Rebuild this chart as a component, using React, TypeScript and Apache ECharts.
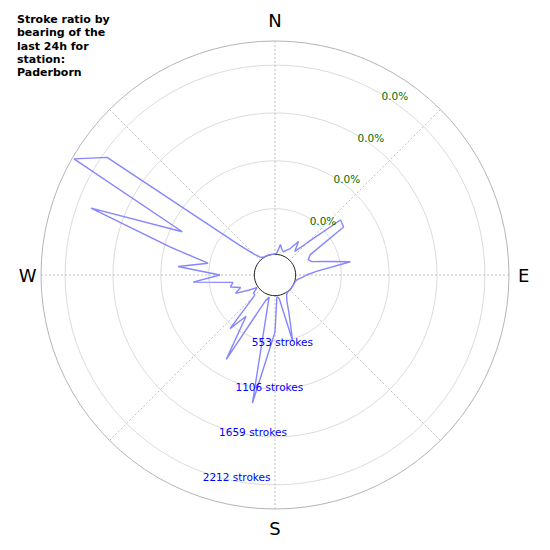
import React, { useEffect, useRef } from 'react';
import * as echarts from 'echarts';

// bearing bins (degrees, clockwise from north)
const bearings = [
  0, 5, 10, 15, 20, 25, 30, 35, 40, 45, 50, 55,
  60, 65, 70, 75, 80, 85, 90, 95, 100, 105, 110, 115,
  120, 125, 130, 135, 140, 145, 150, 155, 160, 165, 170, 175,
  180, 185, 190, 195, 200, 205, 210, 215, 220, 225, 230, 235,
  240, 245, 250, 255, 260, 265, 270, 275, 280, 285, 290, 295,
  300, 305, 310, 315, 320, 325, 330, 335, 340, 345, 350, 355,
];

// strokes per bearing bin
const strokes = [
  30, 45, 146, 95, 73, 105, 140, 260, 143, 315, 775, 755,
  258, 210, 239, 392, 671, 267, 150, 105, 60, 38, 32, 30,
  30, 30, 30, 30, 32, 35, 55, 110, 260, 577, 60, 40,
  444, 700, 1289, 50, 100, 270, 913, 370, 596, 120, 110, 40,
  140, 290, 210, 320, 280, 737, 424, 911, 573, 1050, 2048, 969,
  2469, 2155, 330, 130, 60, 35, 32, 30, 30, 30, 30, 28,
];

const strokeTicks = [553, 1106, 1659, 2212];
const pctLabels = ['0.0%', '0.0%', '0.0%', '0.0%'];
const compassBearings = [0, 90, 180, 270];
const compassLabels = ['N', 'E', 'S', 'W'];
const compassKeys = ['n', 'e', 's', 'w'];
const titleText = 'Stroke ratio by\nbearing of the\nlast 24h for\nstation:\nPaderborn';
const radiusMax = 2490;
const strokeLabelBearing = 200;
const pctLabelBearing = 30;

const FONT = 'DejaVu Sans';

export default function App() {
  const ref = useRef<HTMLDivElement>(null);

  useEffect(() => {
    if (!ref.current) return;
    const chart = echarts.init(ref.current, null, { renderer: 'svg' });

    const lineData = bearings.map((b, i) => [strokes[i], b]);
    lineData.push([strokes[0], 360]);

    const compassText = { fontFamily: FONT, fontSize: 18, color: '#000' };

    const option = {
      animation: false,
      backgroundColor: '#ffffff',
      title: {
        text: titleText,
        left: 17,
        top: 13,
        padding: 0,
        textStyle: {
          fontFamily: FONT,
          fontSize: 11,
          fontWeight: 'bold',
          color: '#000',
          lineHeight: 13.3,
        },
      },
      polar: [
        { center: [275, 275], radius: [18.4, 234] },
        { center: [275, 275], radius: [0, 234] },
        { center: [275, 275], radius: [0, 20.7] },
      ],
      angleAxis: [
        {
          polarIndex: 0,
          type: 'value',
          min: 0,
          max: 360,
          interval: 45,
          startAngle: 90,
          clockwise: true,
          axisLine: { show: false },
          axisTick: { show: false },
          axisLabel: {
            show: true,
            margin: 4.5,
            ...compassText,
            formatter: (v: number) => {
              const idx = compassBearings.indexOf(v);
              return idx >= 0 ? `{${compassKeys[idx]}|${compassLabels[idx]}}` : '';
            },
            rich: {
              n: { ...compassText, padding: [0, 0, 7, 0] },
              e: { ...compassText, padding: [0, 0, 0, 4.5] },
              s: { ...compassText, padding: [6, 0, 0, 0] },
              w: { ...compassText, padding: [0, 0, 0, 0] },
            },
          },
          splitLine: {
            show: true,
            lineStyle: { color: '#b0b0b0', width: 0.8, type: [2, 2] },
          },
        },
        {
          polarIndex: 1,
          type: 'value',
          min: 0,
          max: 360,
          startAngle: 90,
          axisLine: { show: true, lineStyle: { color: '#b5b5b5', width: 1 } },
          axisTick: { show: false },
          axisLabel: { show: false },
          splitLine: { show: false },
        },
        {
          polarIndex: 2,
          type: 'value',
          min: 0,
          max: 360,
          startAngle: 90,
          axisLine: { show: true, lineStyle: { color: '#222', width: 1 } },
          axisTick: { show: false },
          axisLabel: { show: false },
          splitLine: { show: false },
        },
      ],
      radiusAxis: [
        {
          polarIndex: 0,
          type: 'value',
          min: 0,
          max: radiusMax,
          interval: 553,
          axisLine: { show: false },
          axisTick: { show: false },
          axisLabel: { show: false },
          splitLine: {
            show: true,
            lineStyle: {
              color: ['rgba(0,0,0,0)', '#d2d2d2', '#d2d2d2', '#d2d2d2', '#d2d2d2', 'rgba(0,0,0,0)'],
              width: 0.8,
            },
          },
        },
        { polarIndex: 1, type: 'value', min: 0, max: 1, show: false },
        { polarIndex: 2, type: 'value', min: 0, max: 1, show: false },
      ],
      series: [
        {
          type: 'line',
          coordinateSystem: 'polar',
          polarIndex: 0,
          data: lineData,
          symbol: 'none',
          silent: true,
          lineStyle: { color: '#8686ff', width: 1.4 },
          z: 3,
        },
        {
          type: 'scatter',
          coordinateSystem: 'polar',
          polarIndex: 0,
          silent: true,
          symbolSize: 1,
          itemStyle: { color: 'rgba(0,0,0,0)', opacity: 1 },
          data: strokeTicks.map((v) => [v, strokeLabelBearing]),
          label: {
            show: true,
            position: 'right',
            distance: 0,
            offset: [-1, 5],
            fontFamily: FONT,
            fontSize: 10.5,
            color: '#0000ff',
            opacity: 1,
            formatter: (p: any) => `${p.value[0]} strokes`,
          },
          z: 5,
        },
        {
          type: 'scatter',
          coordinateSystem: 'polar',
          polarIndex: 0,
          silent: true,
          symbolSize: 1,
          itemStyle: { color: 'rgba(0,0,0,0)', opacity: 1 },
          data: strokeTicks.map((v) => [v, pctLabelBearing]),
          label: {
            show: true,
            position: 'right',
            distance: 0,
            offset: [1, 3],
            fontFamily: FONT,
            fontSize: 10.5,
            color: '#006e00',
            opacity: 1,
            formatter: (p: any) => pctLabels[p.dataIndex],
          },
          z: 5,
        },
      ],
    };

    chart.setOption(option as any);
    return () => chart.dispose();
  }, []);

  return (
    <div
      ref={ref}
      style={{ position: 'fixed', left: 0, top: 0, width: 550, height: 550, background: '#fff' }}
    />
  );
}
